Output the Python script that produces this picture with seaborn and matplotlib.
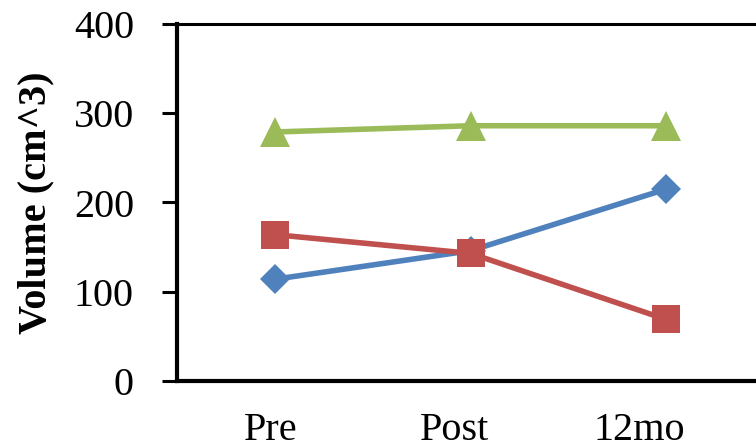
import matplotlib
matplotlib.use("Agg")
import matplotlib.pyplot as plt
import matplotlib.transforms as mtransforms
import seaborn as sns
import pandas as pd

# ---- data ----
timepoints = ["Pre", "Post", "12mo"]
series_names = ["A", "B", "C"]
blue_values = [114, 146, 215]
red_values = [164, 143, 69]
green_values = [279, 286, 286]
y_ticks = [0, 100, 200, 300, 400]
y_label = "Volume (cm^3)"

colors = {"A": "#4F81BD", "B": "#C0504D", "C": "#9BBB59"}
markers = {"A": "D", "B": "s", "C": "^"}
marker_sizes = {"A": 15, "B": 20, "C": 22}

df = pd.DataFrame({
    "time": timepoints * 3,
    "series": ["A"] * 3 + ["B"] * 3 + ["C"] * 3,
    "value": blue_values + red_values + green_values,
})

sns.set_theme(style="white")
plt.rcParams["font.family"] = ["Liberation Serif", "DejaVu Serif"]
plt.rcParams["text.color"] = "black"
plt.rcParams["axes.labelcolor"] = "black"
plt.rcParams["xtick.color"] = "black"
plt.rcParams["ytick.color"] = "black"

W, H = 756, 448
fig = plt.figure(figsize=(W / 100, H / 100), dpi=100)
left, right, top, bottom = 177, 764, 24, 381
ax = fig.add_axes([left / W, (H - bottom) / H, (right - left) / W, (bottom - top) / H])

sns.lineplot(data=df, x="time", y="value", hue="series", style="series",
             palette=colors, markers=markers, dashes=False, sort=False,
             linewidth=4.0, markeredgewidth=0, legend=False, ax=ax)

# adjust marker sizes per series
for line, name in zip(ax.get_lines(), series_names):
    line.set_markersize(marker_sizes[name])

ax.set_xlim(-0.5, 2.5)
ax.set_ylim(0, 400)
ax.set_yticks(y_ticks)
ax.set_xticks(range(len(timepoints)))
ax.set_xticklabels(timepoints)
ax.set_xlabel("")
ax.set_ylabel(y_label, fontsize=29, fontweight="bold", labelpad=14, color="black")

for s in ["left", "bottom", "top"]:
    ax.spines[s].set_visible(True)
    ax.spines[s].set_color("black")
ax.spines["left"].set_linewidth(3.0)
ax.spines["bottom"].set_linewidth(3.0)
ax.spines["top"].set_linewidth(2.2)
ax.spines["right"].set_visible(False)

ax.tick_params(axis="y", direction="out", length=11, width=2.2, color="black",
               labelcolor="black", labelsize=29, pad=20, left=True)
ax.tick_params(axis="x", length=0, labelsize=29, labelcolor="black", pad=22, bottom=False)
ax.set_facecolor("white")

offsets = [-4, -16, -27]
for lab, dx in zip(ax.get_xticklabels(), offsets):
    lab.set_transform(lab.get_transform() + mtransforms.ScaledTranslation(dx / 100, 0, fig.dpi_scale_trans))

fig.savefig("out.png", dpi=100)
